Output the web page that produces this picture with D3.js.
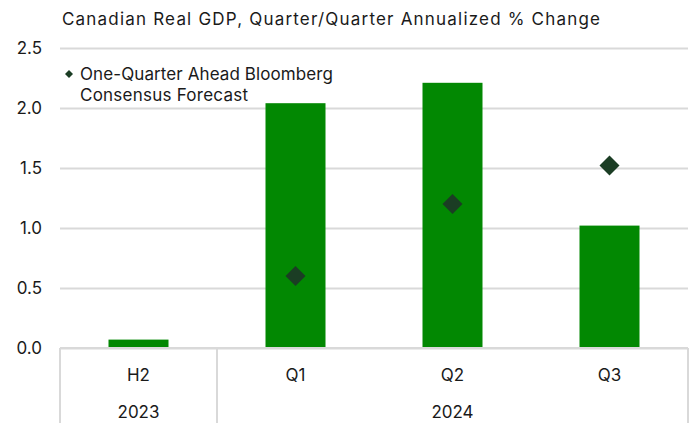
<!DOCTYPE html>
<html>
<head>
<meta charset="utf-8">
<script src="https://cdn.jsdelivr.net/npm/d3@7"></script>
<style>
  html, body { margin: 0; padding: 0; background: #fff; }
  svg { display: block; font-family: "Inter", "Noto Sans", sans-serif; }
</style>
</head>
<body>
<svg id="chart" width="691" height="424"></svg>
<script>
// Quarterly periods and their year groups
const periods = ["H2", "Q1", "Q2", "Q3"];
const periodYears = ["2023", "2024", "2024", "2024"];
const years = ["2023", "2024"];

// Actual real GDP growth, q/q annualized %
const actualGrowth = [0.07, 2.04, 2.21, 1.02];
// One-quarter-ahead Bloomberg consensus forecast (none for H2 2023)
const consensusForecast = [null, 0.6, 1.2, 1.52];

const yTicks = [0, 0.5, 1.0, 1.5, 2.0, 2.5];

const svg = d3.select("#chart");
const margin = { left: 60, right: 3, top: 48, bottom: 76 };
const W = 691, H = 424;
const plotBottom = H - margin.bottom; // 348

const x = d3.scaleBand().domain(periods).range([margin.left, W - margin.right]).paddingInner(0).paddingOuter(0);
const y = d3.scaleLinear().domain([0, 2.5]).range([plotBottom, margin.top]);

const grid = "#d9d9d9";
const barColor = "#028802";
const diamondColor = "#1b3d24";
const textColor = "#1a1a1a";

// Title
svg.append("text")
  .attr("x", 62).attr("y", 25)
  .attr("font-size", 17).attr("fill", textColor)
  .attr("textLength", 538).attr("lengthAdjust", "spacing")
  .text("Canadian Real GDP, Quarter/Quarter Annualized % Change");

// Gridlines and y tick labels
const yAxis = d3.axisLeft(y).tickValues(yTicks).tickFormat(d3.format(".1f"))
  .tickSize(-(W - margin.right - margin.left)).tickPadding(18);
const gy = svg.append("g").attr("transform", `translate(${margin.left},0)`).call(yAxis);
gy.select(".domain").remove();
gy.selectAll(".tick line").attr("stroke", grid).attr("stroke-width", 2);
gy.selectAll(".tick text").attr("font-size", 17).attr("fill", textColor)
  .attr("font-family", "Inter, 'Noto Sans', sans-serif");

// Bars
const barW = 60;
svg.append("g").selectAll("rect").data(periods).join("rect")
  .attr("x", (d) => x(d) + x.bandwidth() / 2 - barW / 2)
  .attr("width", barW)
  .attr("y", (d, i) => y(actualGrowth[i]))
  .attr("height", (d, i) => y(0) - y(actualGrowth[i]))
  .attr("fill", barColor);

// Forecast diamonds
const dSize = 10;
svg.append("g").selectAll("path")
  .data(periods.map((p, i) => ({ p, v: consensusForecast[i] })).filter((d) => d.v != null))
  .join("path")
  .attr("d", `M0,${-dSize}L${dSize},0L0,${dSize}L${-dSize},0Z`)
  .attr("transform", (d) => `translate(${x(d.p) + x.bandwidth() / 2},${y(d.v)})`)
  .attr("fill", diamondColor);

// Category axis: baseline, group dividers and labels
const axisG = svg.append("g");
axisG.append("line")
  .attr("x1", margin.left).attr("x2", W - margin.right)
  .attr("y1", plotBottom).attr("y2", plotBottom)
  .attr("stroke", grid).attr("stroke-width", 2);

const groupEdges = [margin.left];
years.forEach((yr) => {
  const last = periods.filter((p, i) => periodYears[i] === yr).slice(-1)[0];
  groupEdges.push(x(last) + x.bandwidth());
});
axisG.selectAll("line.div").data(groupEdges).join("line").attr("class", "div")
  .attr("x1", (d) => d).attr("x2", (d) => d)
  .attr("y1", plotBottom).attr("y2", H - 1)
  .attr("stroke", grid).attr("stroke-width", 2);

axisG.selectAll("text.period").data(periods).join("text").attr("class", "period")
  .attr("x", (d) => x(d) + x.bandwidth() / 2)
  .attr("y", 381)
  .attr("text-anchor", "middle").attr("font-size", 17).attr("fill", textColor)
  .text((d) => d);

axisG.selectAll("text.year").data(years).join("text").attr("class", "year")
  .attr("x", (yr) => {
    const ps = periods.filter((p, i) => periodYears[i] === yr);
    return (x(ps[0]) + x(ps[ps.length - 1]) + x.bandwidth()) / 2;
  })
  .attr("y", 418)
  .attr("text-anchor", "middle").attr("font-size", 17).attr("fill", textColor)
  .text((d) => d);

// Legend
const lg = svg.append("g");
lg.append("path")
  .attr("d", "M0,-4L4,0L0,4L-4,0Z")
  .attr("transform", "translate(69,74)")
  .attr("fill", diamondColor);
lg.append("text").attr("x", 80).attr("y", 80)
  .attr("font-size", 17).attr("fill", textColor)
  .attr("textLength", 253).attr("lengthAdjust", "spacing")
  .text("One-Quarter Ahead Bloomberg");
lg.append("text").attr("x", 80).attr("y", 101)
  .attr("font-size", 17).attr("fill", textColor)
  .attr("textLength", 168).attr("lengthAdjust", "spacing")
  .text("Consensus Forecast");
</script>
</body>
</html>
